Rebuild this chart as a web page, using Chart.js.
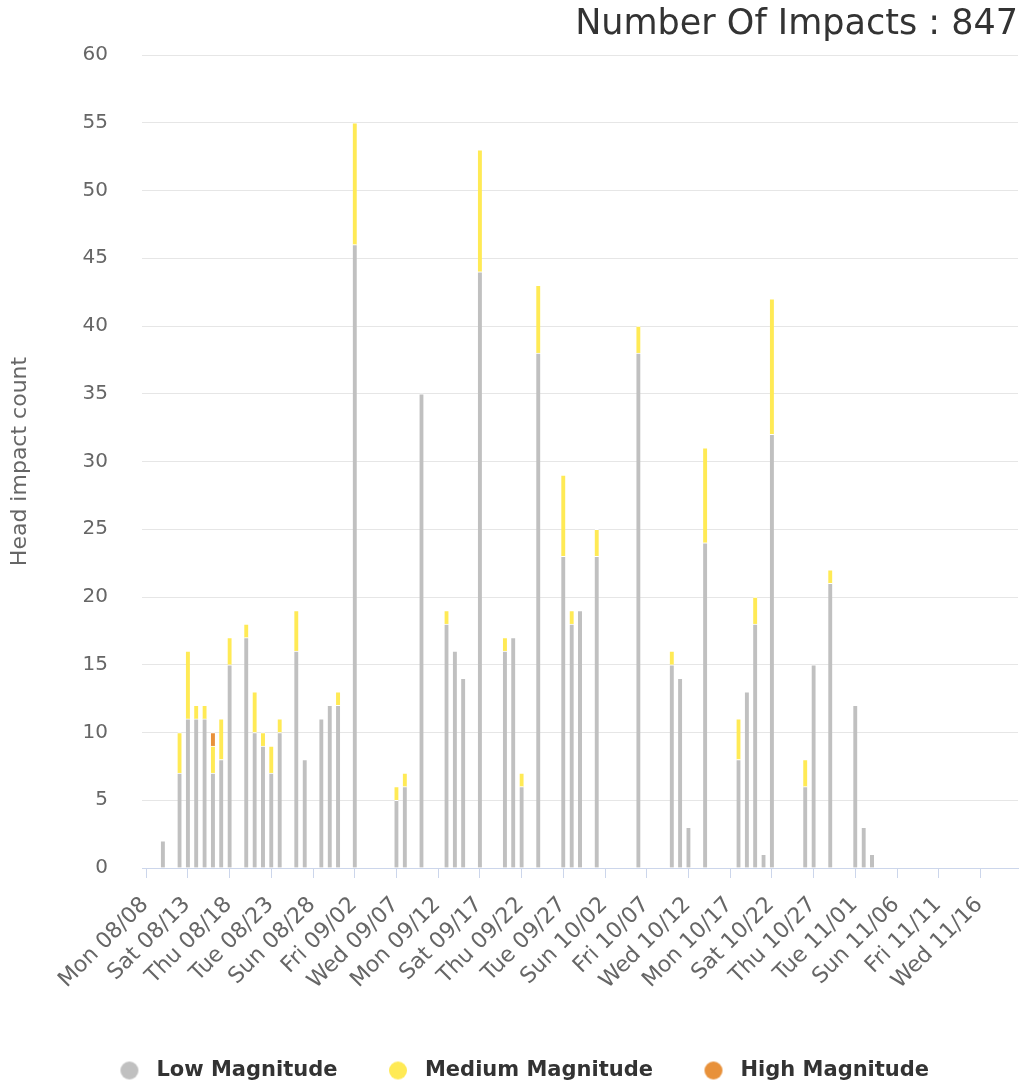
<!DOCTYPE html>
<html>
<head>
<meta charset="utf-8">
<script src="https://cdn.jsdelivr.net/npm/chart.js@4/dist/chart.umd.min.js"></script>
<style>
  html, body { margin: 0; padding: 0; background: #ffffff; }
  #wrap { width: 1027px; height: 1089px; }
</style>
</head>
<body>
<div id="wrap"><canvas id="impacts" width="1027" height="1089"></canvas></div>
<script>
// Season window: Mon 08/08/2016 through Sun 11/20/2016, one category per day
const seasonStart = '2016-08-08';
const seasonEnd = '2016-11-20';

// Daily head impact counts by magnitude ([MM/DD, count])
const lowMagnitude = [
  ['08/10', 2], ['08/12', 7], ['08/13', 11], ['08/14', 11], ['08/15', 11], ['08/16', 7],
  ['08/17', 8], ['08/18', 15], ['08/20', 17], ['08/21', 10], ['08/22', 9], ['08/23', 7],
  ['08/24', 10], ['08/26', 16], ['08/27', 8], ['08/29', 11], ['08/30', 12], ['08/31', 12],
  ['09/02', 46], ['09/07', 5], ['09/08', 6], ['09/10', 35], ['09/13', 18], ['09/14', 16],
  ['09/15', 14], ['09/17', 44], ['09/20', 16], ['09/21', 17], ['09/22', 6], ['09/24', 38],
  ['09/27', 23], ['09/28', 18], ['09/29', 19], ['10/01', 23], ['10/06', 38], ['10/10', 15],
  ['10/11', 14], ['10/12', 3], ['10/14', 24], ['10/18', 8], ['10/19', 13], ['10/20', 18],
  ['10/21', 1], ['10/22', 32], ['10/26', 6], ['10/27', 15], ['10/29', 21], ['11/01', 12],
  ['11/02', 3], ['11/03', 1]
];
const mediumMagnitude = [
  ['08/12', 3], ['08/13', 5], ['08/14', 1], ['08/15', 1], ['08/16', 2], ['08/17', 3],
  ['08/18', 2], ['08/20', 1], ['08/21', 3], ['08/22', 1], ['08/23', 2], ['08/24', 1],
  ['08/26', 3], ['08/31', 1], ['09/02', 9], ['09/07', 1], ['09/08', 1], ['09/13', 1],
  ['09/17', 9], ['09/20', 1], ['09/22', 1], ['09/24', 5], ['09/27', 6], ['09/28', 1],
  ['10/01', 2], ['10/06', 2], ['10/10', 1], ['10/14', 7], ['10/18', 3], ['10/20', 2],
  ['10/22', 10], ['10/26', 2], ['10/29', 1]
];
const highMagnitude = [
  ['08/16', 1]
];

// Y axis range and step
const yTicks = { min: 0, max: 60, step: 5 };

const COLORS = { low: '#c0c0c0', medium: '#ffea55', high: '#e8913a' };
const FONT = '"DejaVu Sans", Verdana, sans-serif';
const WEEKDAYS = ['Sun', 'Mon', 'Tue', 'Wed', 'Thu', 'Fri', 'Sat'];

// Day categories (MM/DD) and their weekday names
const dayKeys = [];
const dayNames = [];
for (let d = new Date(seasonStart + 'T00:00:00Z'); d <= new Date(seasonEnd + 'T00:00:00Z'); d.setUTCDate(d.getUTCDate() + 1)) {
  const mm = String(d.getUTCMonth() + 1).padStart(2, '0');
  const dd = String(d.getUTCDate()).padStart(2, '0');
  dayKeys.push(mm + '/' + dd);
  dayNames.push(WEEKDAYS[d.getUTCDay()]);
}

const toPoints = rows => rows.map(([day, count]) => ({ x: day, y: count }));
const sumOf = rows => rows.reduce((s, r) => s + r[1], 0);
const totalImpacts = sumOf(lowMagnitude) + sumOf(mediumMagnitude) + sumOf(highMagnitude);

// Legend marker: a round dot sitting left of centre, leaving a wider gap before the text
function legendDot(color) {
  const c = document.createElement('canvas');
  c.width = 36; c.height = 20;
  const g = c.getContext('2d');
  g.fillStyle = color;
  g.beginPath();
  g.arc(12, 10, 9, 0, Math.PI * 2);
  g.fill();
  return c;
}
const legendDots = [legendDot(COLORS.low), legendDot(COLORS.medium), legendDot(COLORS.high)];

const barStyle = {
  barThickness: 4,
  borderColor: '#ffffff',
  borderWidth: { top: 1, left: 0, right: 0, bottom: 0 },
  borderSkipped: false
};

// Nudge the legend row a little to the right of the canvas centre
const legendInset = {
  id: 'legendInset',
  afterLayout(chart) {
    if (chart.legend) chart.legend.left = 36;
  }
};

new Chart(document.getElementById('impacts'), {
  type: 'bar',
  data: {
    labels: dayKeys,
    datasets: [
      Object.assign({ label: 'Low Magnitude', data: toPoints(lowMagnitude), backgroundColor: COLORS.low }, barStyle),
      Object.assign({ label: 'Medium Magnitude', data: toPoints(mediumMagnitude), backgroundColor: COLORS.medium }, barStyle),
      Object.assign({ label: 'High Magnitude', data: toPoints(highMagnitude), backgroundColor: COLORS.high }, barStyle)
    ]
  },
  plugins: [legendInset],
  options: {
    responsive: false,
    animation: false,
    layout: { padding: { left: 0, right: 9, top: 0, bottom: -2 } },
    plugins: {
      title: {
        display: true,
        text: 'Number Of Impacts : ' + totalImpacts,
        align: 'end',
        color: '#333333',
        font: { family: FONT, size: 35, weight: 'normal', lineHeight: 1.2 },
        padding: { top: 4, bottom: 9 }
      },
      legend: {
        position: 'bottom',
        labels: {
          usePointStyle: true,
          color: '#333333',
          font: { family: FONT, size: 21, weight: 'bold' },
          padding: 56,
          generateLabels(chart) {
            const items = Chart.defaults.plugins.legend.labels.generateLabels(chart);
            items.forEach((it, i) => { it.pointStyle = legendDots[i]; });
            return items;
          }
        }
      },
      tooltip: { enabled: false }
    },
    scales: {
      x: {
        stacked: true,
        offset: true,
        grid: { offset: false, drawOnChartArea: false, drawTicks: true, tickLength: 10, color: '#ccd6eb' },
        border: { display: true, color: '#ccd6eb', width: 1 },
        ticks: {
          autoSkip: false,
          maxRotation: 45,
          minRotation: 45,
          padding: 14,
          labelOffset: -1,
          color: '#666666',
          font: { family: FONT, size: 22 },
          callback: function (value, index) {
            return index % 5 === 0 ? dayNames[index] + ' ' + dayKeys[index] : null;
          }
        },
        afterFit: function (scale) { scale.height = 136; }
      },
      y: {
        stacked: true,
        min: yTicks.min,
        max: yTicks.max,
        ticks: { stepSize: yTicks.step, color: '#666666', font: { family: FONT, size: 20 }, padding: 34 },
        grid: { color: '#e6e6e6', drawTicks: false, lineWidth: 1 },
        border: { display: false },
        title: {
          display: true,
          text: 'Head impact count',
          color: '#666666',
          font: { family: FONT, size: 22 },
          padding: { top: 7, bottom: 4 }
        },
        afterFit: function (scale) { scale.width = 142; }
      }
    }
  }
});
</script>
</body>
</html>
